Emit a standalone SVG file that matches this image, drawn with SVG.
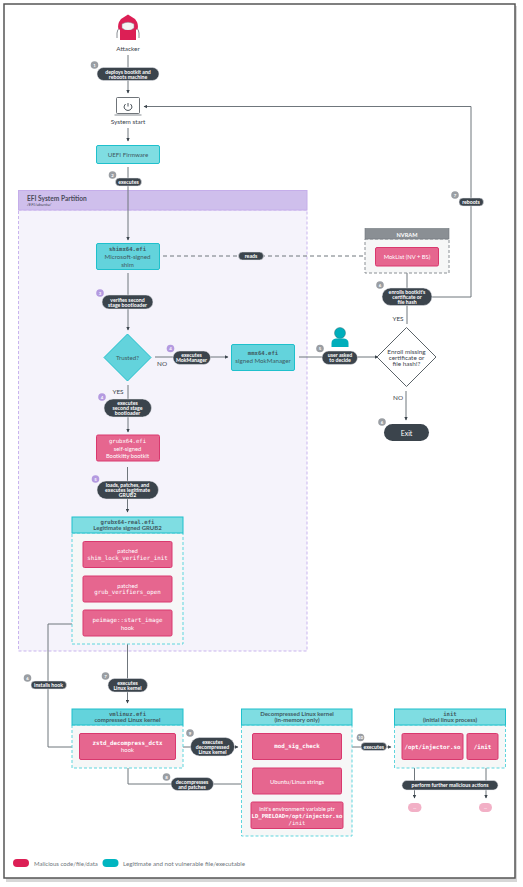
<svg xmlns="http://www.w3.org/2000/svg" width="523" height="887" viewBox="0 0 523 887">
<style>
text{font-family:"Lato","Open Sans",sans-serif;text-anchor:middle;dominant-baseline:central}
.m{font-family:"DejaVu Sans Mono","Liberation Mono",monospace}
.t{fill:#63d3dc;stroke:#1fc0cc;stroke-width:1}
.h{fill:#7fdde2;stroke:#1fc0cc;stroke-width:1}
.p{fill:#e6668f;stroke:#d9386e;stroke-width:1}
.d{fill:#3b444c;stroke:#e8e8ee;stroke-width:.5}
.b{fill:#f6f7f7;stroke:#5fd5dd;stroke-width:1;stroke-dasharray:3 2}
.bg{fill:#9a9ea3}.bp{fill:#b49ae0}
.n{fill:#fff;font-size:5.2px;font-weight:700}
.l{fill:#fff;font-size:5.8px}
.x{fill:#3f5a62;font-size:6.2px}
.k{fill:#3b444c;font-size:6.4px}
.g{fill:#fff;font-size:4.4px;font-weight:700}
.c{fill:none;stroke:#6f767c;stroke-width:1}
.f{fill:#3f5a62;font-size:6px;font-weight:700}
</style>
<defs>
<marker id="a" markerWidth="4" markerHeight="4" refX="3" refY="2" orient="auto" markerUnits="userSpaceOnUse"><path d="M0 .3L3.4 2L0 3.7z" fill="#3b444c"/></marker>
</defs>
<rect width="523" height="887" fill="#fff"/>
<g id="frame">
<rect x="6" y="6" width="511" height="876" fill="#bdbdbd" opacity=".6"/>
<rect x="4" y="4" width="511" height="874" fill="#fff" stroke="#555" stroke-width="1.5"/>
</g>
<g id="efi-partition">
<rect x="18.5" y="210" width="288.5" height="441" fill="#f5f3fb" stroke="#c9b5ee" stroke-width="1" stroke-dasharray="3 2"/>
<rect x="18.5" y="190.5" width="288.5" height="19.5" fill="#cfbfec" stroke="#c5aeea"/>
<text x="27" y="197.500" style="text-anchor:start;font-size:6.6px;font-weight:700" fill="#4a4a5a">EFI System Partition</text>
<text x="27" y="204" style="text-anchor:start;font-size:4.4px;font-style:italic" fill="#4a4a5a">/EFI/ubuntu/</text>
</g>
<g id="connectors">
<path class="c" d="M128 55V93" marker-end="url(#a)"/>
<path class="c" d="M128 128V141" marker-end="url(#a)"/>
<path class="c" d="M128 167V240" marker-end="url(#a)"/>
<path class="c" d="M128 273V330" marker-end="url(#a)"/>
<path class="c" d="M155 357H228" marker-end="url(#a)"/>
<path class="c" d="M128 385V432" marker-end="url(#a)"/>
<path class="c" d="M127.500 467V512" marker-end="url(#a)"/>
<path class="c" d="M163 256H371" stroke-dasharray="4 3" marker-end="url(#a)"/>
<path class="c" d="M299 357H378" marker-end="url(#a)"/>
<path class="c" d="M407 324V305"/>
<path class="c" d="M407 290V270" marker-end="url(#a)"/>
<path class="c" d="M432 297H471V106.500H144" marker-end="url(#a)"/>
<path class="c" d="M406 391V420" marker-end="url(#a)"/>
<path class="c" d="M83 624H48V747H79" marker-end="url(#a)"/>
<path class="c" d="M127.500 644V703" marker-end="url(#a)"/>
<path class="c" d="M183 747H238" marker-end="url(#a)"/>
<path class="c" d="M128 760V784H252" marker-end="url(#a)"/>
<path class="c" d="M252 747H246V815H252" marker-end="url(#a)"/>
<path class="c" d="M352 747H391" marker-end="url(#a)"/>
<path class="c" d="M414.500 760V798" marker-end="url(#a)"/>
<path class="c" d="M486 760V798" marker-end="url(#a)"/>
</g>
<g id="attacker">
<path d="M117 38V33Q117 29 120.500 27.500M139 38V33Q139 29 135.500 27.500" fill="none" stroke="#8a8f94" stroke-width="1"/>
<path d="M128 14.500L135 19Q139 24 137.500 29L134 31H122L118.500 29Q117 24 121 19z" fill="#dc1f55"/>
<path d="M122 24Q128 20.500 134 24V28Q128 33 122 28z" fill="#f4f4f4" stroke="#8a8f94" stroke-width=".5"/>
<rect x="120" y="30" width="16" height="10" fill="#dc1f55"/>
<text x="128" y="48" class="k">Attacker</text>
</g>
<g id="system-start">
<rect x="116.500" y="97.500" width="23" height="16" rx="1" fill="#fff" stroke="#4a5157" stroke-width=".8"/>
<path d="M114.500 115H141.500" stroke="#9ba0a4" stroke-width="1.200"/>
<path d="M125.500 104Q123.500 106 124.200 108Q125.500 110.500 128 110.500Q130.500 110.500 131.800 108Q132.500 106 130.500 104M128 103V106.500" fill="none" stroke="#3b444c" stroke-width=".9"/>
<text x="128" y="121.500" class="k">System start</text>
</g>
<g id="uefi"><rect class="h" x="96.500" y="145.500" width="63" height="18" rx="1.500"/><text x="128" y="154.500" class="x">UEFI Firmware</text></g>
<g id="shim"><rect class="t" x="96.500" y="243.500" width="63" height="26" rx="1.500"/>
<text x="127.500" y="249" class="m x" style="font-size:5.6px;font-weight:700">shimx64.efi</text><text x="127.500" y="256.500" class="x">Microsoft-signed</text><text x="127.500" y="264" class="x">shim</text></g>
<g id="trusted"><path class="t" d="M127.500 334L151 357.500L127.500 381L104 357.500z"/><text x="127.500" y="357.500" class="x">Trusted?</text></g>
<g id="mm"><rect class="t" x="231.500" y="344.500" width="63" height="26" rx="1.500"/>
<text x="263" y="353" class="m x" style="font-size:5.6px;font-weight:700">mmx64.efi</text><text x="263" y="360.500" class="x">signed MokManager</text></g>
<g id="grubx"><rect class="p" x="96.500" y="435" width="63" height="26" rx="1.500"/>
<text x="127.500" y="440.500" class="m l" style="font-size:5.6px">grubx64.efi</text><text x="127.500" y="448" class="l">self-signed</text><text x="127.500" y="455" class="l">Bootkitty bootkit</text></g>
<g id="grub-real"><rect class="b" x="72" y="533" width="111" height="111"/><rect class="h" x="72" y="517" width="111" height="16"/>
<text x="127.500" y="521.500" class="m f" style="font-size:5.600px">grubx64-real.efi</text><text x="127.500" y="527" class="f">Legitimate signed GRUB2</text></g>
<g id="shim-lock"><rect class="p" x="83" y="541.500" width="89" height="26" rx="1.500"/><text x="127.500" y="550.500" class="l">patched</text><text x="127.500" y="558" class="m l" style="font-size:5.800px">shim_lock_verifier_init</text></g>
<g id="grub-ver"><rect class="p" x="83" y="576" width="89" height="26" rx="1.500"/><text x="127.500" y="585" class="l">patched</text><text x="127.500" y="592" class="m l" style="font-size:5.800px">grub_verifiers_open</text></g>
<g id="peimage"><rect class="p" x="83" y="610" width="89" height="26" rx="1.500"/><text x="127.500" y="619.500" class="m l" style="font-size:5.800px">peimage::start_image</text><text x="127.500" y="627" class="l">hook</text></g>
<g id="vmlinuz"><rect class="b" x="72" y="725" width="111" height="43"/><rect class="t" x="72" y="709" width="111" height="16"/>
<text x="127.500" y="713.500" class="m f" style="font-size:5.600px">vmlinuz.efi</text><text x="127.500" y="719.500" class="f">compressed Linux kernel</text></g>
<g id="zstd"><rect class="p" x="79.500" y="733.500" width="96" height="26" rx="1.500"/><text x="127.500" y="742.500" class="m l" style="font-size:5.800px;font-weight:700">zstd_decompress_dctx</text><text x="127.500" y="749.500" class="l">hook</text></g>
<g id="decompressed"><rect class="b" x="241.500" y="725" width="110.500" height="111"/><rect class="h" x="241.500" y="709" width="110.500" height="16"/>
<text x="297" y="713.500" class="f">Decompressed Linux kernel</text><text x="297" y="719.500" class="f">(in-memory only)</text></g>
<g id="modsig"><rect class="p" x="252.500" y="733.500" width="89" height="26" rx="1.500"/><text x="297" y="746" class="m l" style="font-size:5.800px;font-weight:700">mod_sig_check</text></g>
<g id="strings"><rect class="p" x="252.500" y="768" width="89" height="26" rx="1.500"/><text x="297" y="781" class="l">Ubuntu/Linux strings</text></g>
<g id="envptr"><rect class="p" x="251" y="802" width="92" height="26.500" rx="1.500"/><text x="297" y="808" class="l">init's environment variable ptr</text><text x="297" y="815.500" class="m l" style="font-size:5.600px;font-weight:700">LD_PRELOAD=/opt/injector.so</text><text x="297" y="823" class="m l" style="font-size:5.600px">/init</text></g>
<g id="init"><rect class="b" x="394.500" y="725" width="111" height="43"/><rect class="h" x="394.500" y="709" width="111" height="16"/>
<text x="450" y="713.500" class="m f" style="font-size:5.600px">init</text><text x="450" y="719.500" class="f">(initial linux process)</text></g>
<g id="injector"><rect class="p" x="402" y="733.500" width="61" height="26" rx="1.500"/><text x="432.500" y="746.500" class="m l" style="font-size:5.800px;font-weight:700">/opt/injector.so</text></g>
<g id="init-bin"><rect class="p" x="467" y="733.500" width="31" height="26" rx="1.500"/><text x="482.500" y="746.500" class="m l" style="font-size:5.800px;font-weight:700">/init</text></g>
<g id="more1"><rect x="408" y="803" width="13.500" height="9" rx="4.500" fill="#f2b0c6"/><text x="414.700" y="807.500" class="g">...</text></g>
<g id="more2"><rect x="479" y="803" width="13" height="9" rx="4.500" fill="#f2b0c6"/><text x="485.500" y="807.500" class="g">...</text></g>
<g id="nvram"><rect x="365" y="239" width="84" height="34" fill="#f6f7f7" stroke="#8a8f94" stroke-dasharray="3 2"/><rect x="365" y="228.500" width="84" height="10.500" fill="#8a8f94" stroke="#6f767c" stroke-width=".6"/><text x="407" y="234" style="font-size:5.600px;font-weight:700" fill="#fff">NVRAM</text></g>
<g id="moklist"><rect class="p" x="375.500" y="247.500" width="63" height="18.500" rx="1.500"/><text x="407" y="256.500" class="l">MokList (NV + BS)</text></g>
<g id="enroll"><path d="M406.500 327.500L436 357L406.500 386.500L377 357z" fill="#fff" stroke="#5b6369" stroke-width="1"/><text x="406.500" y="351.500" class="k">Enroll missing</text><text x="406.500" y="357.500" class="k">certificate or</text><text x="406.500" y="363" class="k">file hash!?</text></g>
<g id="exit"><rect x="384" y="424" width="45" height="17" rx="8.500" fill="#3b444c"/><text x="406.500" y="432.500" style="font-size:7px" fill="#fff">Exit</text></g>
<g id="user"><circle cx="340" cy="333" r="5.500" fill="#00aebb" stroke="#3b5a62" stroke-width=".4"/><path d="M331.500 347V343Q331.500 339 336 338.500H344Q348.500 339 348.500 343V347z" fill="#00aebb"/></g>
<g id="labels">
<rect class="d" x="97" y="67.500" width="62" height="13" rx="6.500"/><text x="128" y="71.500" class="n">deploys bootkit and</text><text x="128" y="76.500" class="n">reboots machine</text>
<rect class="d" x="115.500" y="178" width="26" height="8" rx="4"/><text x="128.500" y="182" class="n">executes</text>
<rect class="d" x="102" y="295" width="51" height="14" rx="7"/><text x="127.500" y="299.500" class="n">verifies second</text><text x="127.500" y="304.500" class="n">stage bootloader</text>
<rect class="d" x="238.500" y="252" width="25" height="8" rx="4"/><text x="251" y="256" class="n">reads</text>
<rect class="d" x="173" y="351" width="37.500" height="13.500" rx="6.700"/><text x="191.500" y="355" class="n">executes</text><text x="191.500" y="360" class="n">MokManager</text>
<rect class="d" x="104" y="399" width="47.500" height="18" rx="9"/><text x="127.500" y="403" class="n">executes</text><text x="127.500" y="408" class="n">second stage</text><text x="127.500" y="413" class="n">bootloader</text>
<rect class="d" x="97" y="481" width="61.500" height="18" rx="9"/><text x="127.500" y="484.500" class="n">loads, patches, and</text><text x="127.500" y="489.500" class="n">executes legitimate</text><text x="127.500" y="494.500" class="n">GRUB2</text>
<rect class="d" x="322" y="351" width="35.500" height="13.500" rx="6.700"/><text x="340" y="355" class="n">user asked</text><text x="340" y="360" class="n">to decide</text>
<rect class="d" x="382" y="288" width="50" height="17.500" rx="8.700"/><text x="407" y="292" class="n">enrolls bootkit's</text><text x="407" y="297" class="n">certificate or</text><text x="407" y="301.500" class="n">file hash</text>
<rect class="d" x="459" y="198" width="24.500" height="8" rx="4"/><text x="471" y="202" class="n">reboots</text>
<rect class="d" x="31" y="681" width="35.500" height="8" rx="4"/><text x="48.500" y="685" class="n">installs hook</text>
<rect class="d" x="108" y="678.500" width="39.500" height="13.500" rx="6.700"/><text x="127.500" y="682.500" class="n">executes</text><text x="127.500" y="687.500" class="n">Linux kernel</text>
<rect class="d" x="190.500" y="737.500" width="44" height="18.500" rx="9"/><text x="212.500" y="741.500" class="n">executes</text><text x="212.500" y="746.500" class="n">decompressed</text><text x="212.500" y="751.500" class="n">Linux kernel</text>
<rect class="d" x="171" y="777.500" width="42.500" height="13" rx="6.500"/><text x="192" y="781.500" class="n">decompresses</text><text x="192" y="786.500" class="n">and patches</text>
<rect class="d" x="361" y="742.500" width="25.500" height="8" rx="4"/><text x="373.700" y="746.500" class="n">executes</text>
<rect class="d" x="402" y="780.500" width="96" height="9.500" rx="4.700"/><text x="450" y="785" class="n">perform further malicious actions</text>
</g>
<g id="badges">
<circle class="bg" cx="94.500" cy="65" r="3.800"/><text x="94.500" y="65" class="g">1</text>
<circle class="bg" cx="112.500" cy="175" r="3.800"/><text x="112.500" y="175" class="g">2</text>
<circle class="bp" cx="100" cy="293" r="3.800"/><text x="100" y="293" class="g">3</text>
<circle class="bp" cx="170.500" cy="348.500" r="3.800"/><text x="170.500" y="348.500" class="g">4</text>
<circle class="bp" cx="102" cy="397" r="3.800"/><text x="102" y="397" class="g">4</text>
<circle class="bp" cx="95.500" cy="479" r="3.800"/><text x="95.500" y="479" class="g">5</text>
<circle class="bg" cx="320" cy="348.500" r="3.800"/><text x="320" y="348.500" class="g">5</text>
<circle class="bg" cx="380" cy="285" r="3.800"/><text x="380" y="285" class="g">6</text>
<circle class="bg" cx="382" cy="422" r="3.800"/><text x="382" y="422" class="g">6</text>
<circle class="bg" cx="455" cy="195" r="3.800"/><text x="455" y="195" class="g">7</text>
<circle class="bg" cx="27.500" cy="678" r="3.800"/><text x="27.500" y="678" class="g">6</text>
<circle class="bg" cx="105.500" cy="676" r="3.800"/><text x="105.500" y="676" class="g">7</text>
<circle class="bg" cx="190" cy="733" r="3.800"/><text x="190" y="733" class="g">9</text>
<circle class="bg" cx="166.500" cy="777" r="3.800"/><text x="166.500" y="777" class="g">8</text>
<circle class="bg" cx="360.500" cy="737.500" r="3.800"/><text x="360.500" y="737.500" class="g">10</text>
</g>
<g id="edge-labels">
<text x="162" y="363.500" class="k">NO</text><text x="118" y="391.500" class="k">YES</text>
<text x="398" y="318" class="k">YES</text><text x="398" y="397" class="k">NO</text>
</g>
<g id="legend">
<rect x="13" y="859" width="16" height="8" rx="4" fill="#dc1f55"/>
<text x="34" y="863.500" style="text-anchor:start;font-size:6px" fill="#6f767c">Malicious code/file/data</text>
<rect x="102.500" y="859" width="16" height="8" rx="4" fill="#00b5c0"/>
<text x="123" y="863.500" style="text-anchor:start;font-size:6.200px" fill="#6f767c">Legitimate and not vulnerable file/executable</text>
</g>
</svg>
